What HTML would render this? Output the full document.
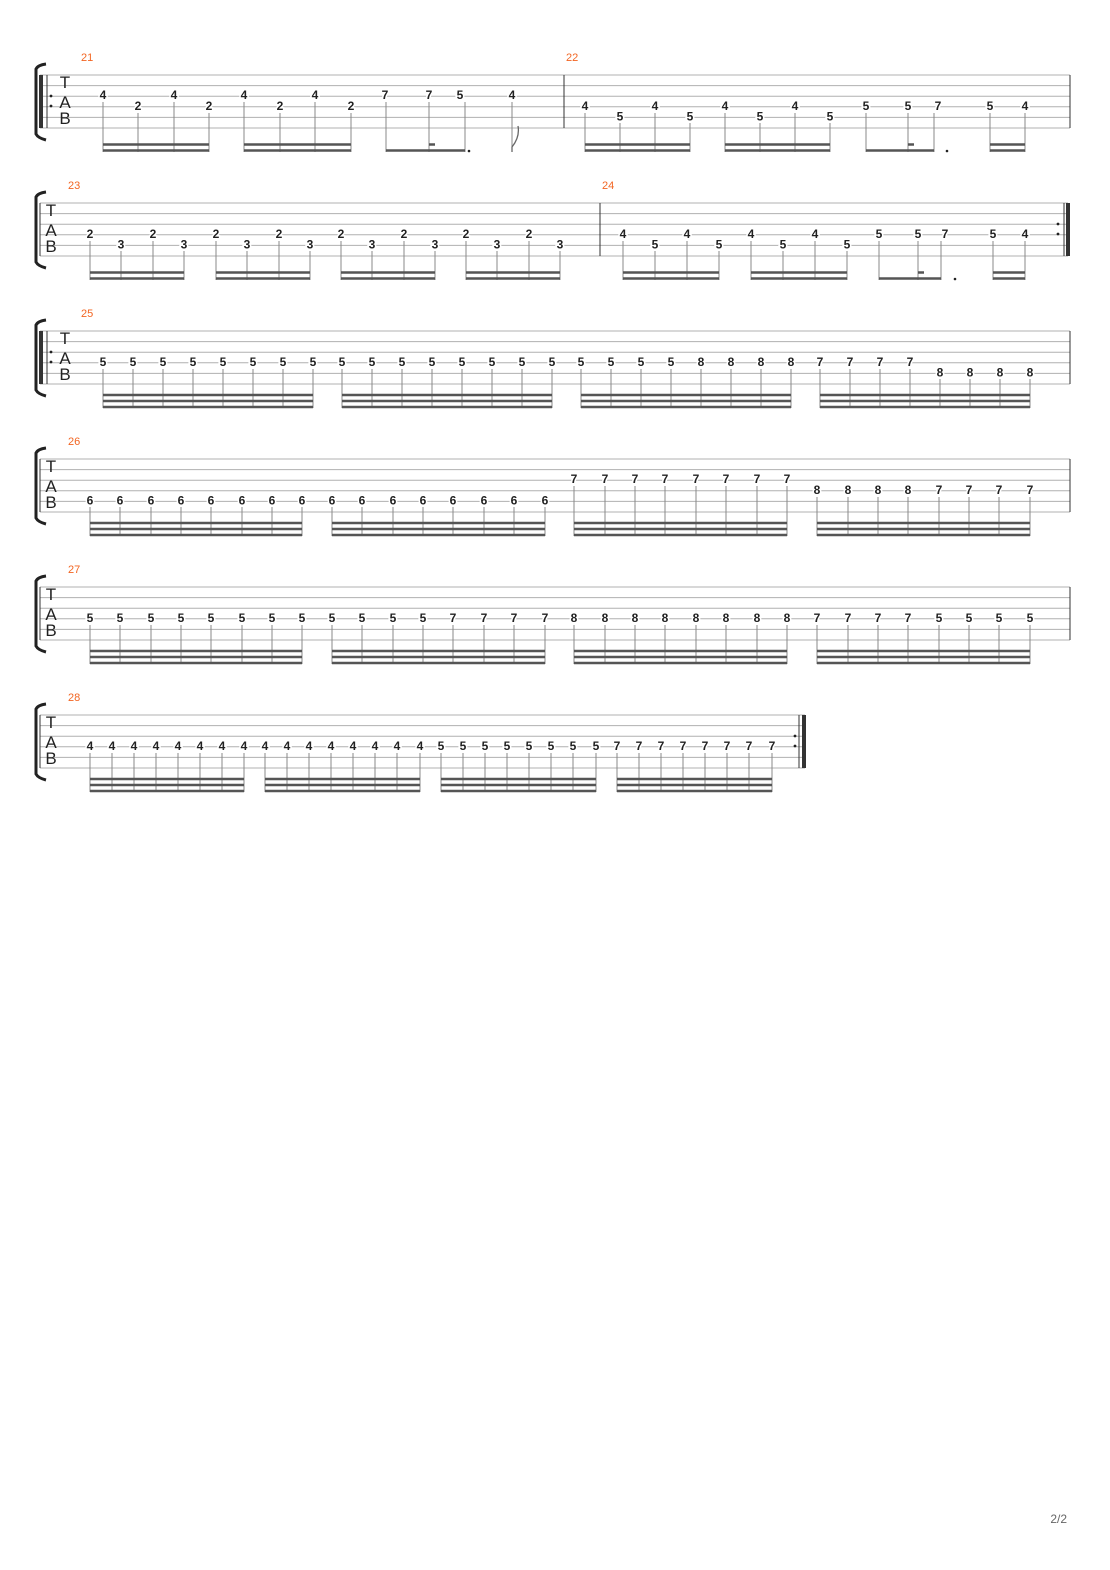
<!DOCTYPE html>
<html><head><meta charset="utf-8"><style>
html,body{margin:0;padding:0;background:#fff}
svg{display:block}
.n{font:bold 12px "Liberation Sans",sans-serif;fill:#222;text-anchor:middle;stroke:#fff;stroke-width:3px;paint-order:stroke}
.m{font:11px "Liberation Sans",sans-serif;fill:#f26522}
.tab{font:17px "Liberation Sans",sans-serif;fill:#222;text-anchor:middle}
.sl line{stroke:#b0b0b0;stroke-width:1}
.st line{stroke:#888;stroke-width:1}
.bm line{stroke:#555;stroke-width:2.5}
.br{fill:none;stroke:#222;stroke-width:3}
</style></head><body>
<svg width="1110" height="1570" viewBox="0 0 1110 1570" xmlns="http://www.w3.org/2000/svg">

<!-- ========== SYSTEM 1 ========== -->
<g transform="translate(0,75)">
<path class="br" d="M46 -11 Q38 -10 36 -6 L36 59 Q38 63 46 65"/>
<g class="sl"><line x1="40" y1="0" x2="1070" y2="0"/><line x1="40" y1="10.6" x2="1070" y2="10.6"/><line x1="40" y1="21.2" x2="1070" y2="21.2"/><line x1="40" y1="31.8" x2="1070" y2="31.8"/><line x1="40" y1="42.4" x2="1070" y2="42.4"/><line x1="40" y1="53" x2="1070" y2="53"/></g>
<rect x="39" y="0" width="4" height="53" fill="#333"/><line x1="47" y1="0" x2="47" y2="53" stroke="#333" stroke-width="1"/>
<circle cx="51" cy="21" r="1.4" fill="#222"/><circle cx="51" cy="31" r="1.4" fill="#222"/>
<text class="tab" x="65" y="13">T</text><text class="tab" x="65" y="33">A</text><text class="tab" x="65" y="49">B</text>
<text class="m" x="81" y="-14">21</text><text class="m" x="566" y="-14">22</text>
<line x1="564" y1="0" x2="564" y2="53" stroke="#333"/>
<line x1="1070" y1="0" x2="1070" y2="53" stroke="#333"/>
<g class="st">
<line x1="103" y1="27" x2="103" y2="77"/><line x1="138" y1="38" x2="138" y2="77"/><line x1="174" y1="27" x2="174" y2="77"/><line x1="209" y1="38" x2="209" y2="77"/>
<line x1="244" y1="27" x2="244" y2="77"/><line x1="280" y1="38" x2="280" y2="77"/><line x1="315" y1="27" x2="315" y2="77"/><line x1="351" y1="38" x2="351" y2="77"/>
<line x1="386" y1="27" x2="386" y2="77"/><line x1="429" y1="27" x2="429" y2="77"/><line x1="465" y1="27" x2="465" y2="77"/><line x1="512" y1="27" x2="512" y2="77"/>
<line x1="585" y1="38" x2="585" y2="77"/><line x1="620" y1="48" x2="620" y2="77"/><line x1="655" y1="38" x2="655" y2="77"/><line x1="690" y1="48" x2="690" y2="77"/>
<line x1="725" y1="38" x2="725" y2="77"/><line x1="760" y1="48" x2="760" y2="77"/><line x1="795" y1="38" x2="795" y2="77"/><line x1="830" y1="48" x2="830" y2="77"/>
<line x1="866" y1="38" x2="866" y2="77"/><line x1="908" y1="38" x2="908" y2="77"/><line x1="934" y1="38" x2="934" y2="77"/>
<line x1="990" y1="38" x2="990" y2="77"/><line x1="1025" y1="38" x2="1025" y2="77"/>
</g>
<path d="M512 77 L512 72 Q520 62 518 51" fill="none" stroke="#666" stroke-width="1.3"/>
<g class="bm">
<line x1="103" y1="69.5" x2="209" y2="69.5"/><line x1="103" y1="75.5" x2="209" y2="75.5"/>
<line x1="244" y1="69.5" x2="351" y2="69.5"/><line x1="244" y1="75.5" x2="351" y2="75.5"/>
<line x1="386" y1="75.5" x2="465" y2="75.5"/><line x1="429" y1="69.5" x2="435" y2="69.5"/>
<line x1="585" y1="69.5" x2="690" y2="69.5"/><line x1="585" y1="75.5" x2="690" y2="75.5"/>
<line x1="725" y1="69.5" x2="830" y2="69.5"/><line x1="725" y1="75.5" x2="830" y2="75.5"/>
<line x1="866" y1="75.5" x2="934" y2="75.5"/><line x1="908" y1="69.5" x2="914" y2="69.5"/>
<line x1="990" y1="69.5" x2="1025" y2="69.5"/><line x1="990" y1="75.5" x2="1025" y2="75.5"/>
</g>
<circle cx="469" cy="76" r="1.3" fill="#222"/><circle cx="947" cy="76" r="1.3" fill="#222"/>
<text class="n" x="103" y="24.2">4</text><text class="n" x="138" y="34.8">2</text><text class="n" x="174" y="24.2">4</text><text class="n" x="209" y="34.8">2</text>
<text class="n" x="244" y="24.2">4</text><text class="n" x="280" y="34.8">2</text><text class="n" x="315" y="24.2">4</text><text class="n" x="351" y="34.8">2</text>
<text class="n" x="385" y="24.2">7</text><text class="n" x="429" y="24.2">7</text><text class="n" x="460" y="24.2">5</text><text class="n" x="512" y="24.2">4</text>
<text class="n" x="585" y="34.8">4</text><text class="n" x="620" y="45.4">5</text><text class="n" x="655" y="34.8">4</text><text class="n" x="690" y="45.4">5</text>
<text class="n" x="725" y="34.8">4</text><text class="n" x="760" y="45.4">5</text><text class="n" x="795" y="34.8">4</text><text class="n" x="830" y="45.4">5</text>
<text class="n" x="866" y="34.8">5</text><text class="n" x="908" y="34.8">5</text><text class="n" x="938" y="34.8">7</text>
<text class="n" x="990" y="34.8">5</text><text class="n" x="1025" y="34.8">4</text>
</g>

<!-- ========== SYSTEM 2 ========== -->
<g transform="translate(0,203)">
<path class="br" d="M46 -11 Q38 -10 36 -6 L36 59 Q38 63 46 65"/>
<g class="sl"><line x1="40" y1="0" x2="1068" y2="0"/><line x1="40" y1="10.6" x2="1068" y2="10.6"/><line x1="40" y1="21.2" x2="1068" y2="21.2"/><line x1="40" y1="31.8" x2="1068" y2="31.8"/><line x1="40" y1="42.4" x2="1068" y2="42.4"/><line x1="40" y1="53" x2="1068" y2="53"/></g>
<line x1="40" y1="0" x2="40" y2="53" stroke="#333"/>
<text class="tab" x="51" y="13">T</text><text class="tab" x="51" y="33">A</text><text class="tab" x="51" y="49">B</text>
<text class="m" x="68" y="-14">23</text><text class="m" x="602" y="-14">24</text>
<line x1="600" y1="0" x2="600" y2="53" stroke="#333"/>
<line x1="1064" y1="0" x2="1064" y2="53" stroke="#333"/><rect x="1066" y="0" width="4" height="53" fill="#333"/>
<circle cx="1058" cy="21" r="1.4" fill="#222"/><circle cx="1058" cy="31" r="1.4" fill="#222"/>
<g class="st">
<line x1="90" y1="38" x2="90" y2="77"/><line x1="121" y1="48" x2="121" y2="77"/><line x1="153" y1="38" x2="153" y2="77"/><line x1="184" y1="48" x2="184" y2="77"/>
<line x1="216" y1="38" x2="216" y2="77"/><line x1="247" y1="48" x2="247" y2="77"/><line x1="279" y1="38" x2="279" y2="77"/><line x1="310" y1="48" x2="310" y2="77"/>
<line x1="341" y1="38" x2="341" y2="77"/><line x1="372" y1="48" x2="372" y2="77"/><line x1="404" y1="38" x2="404" y2="77"/><line x1="435" y1="48" x2="435" y2="77"/>
<line x1="466" y1="38" x2="466" y2="77"/><line x1="497" y1="48" x2="497" y2="77"/><line x1="529" y1="38" x2="529" y2="77"/><line x1="560" y1="48" x2="560" y2="77"/>
<line x1="623" y1="38" x2="623" y2="77"/><line x1="655" y1="48" x2="655" y2="77"/><line x1="687" y1="38" x2="687" y2="77"/><line x1="719" y1="48" x2="719" y2="77"/>
<line x1="751" y1="38" x2="751" y2="77"/><line x1="783" y1="48" x2="783" y2="77"/><line x1="815" y1="38" x2="815" y2="77"/><line x1="847" y1="48" x2="847" y2="77"/>
<line x1="879" y1="38" x2="879" y2="77"/><line x1="918" y1="38" x2="918" y2="77"/><line x1="941" y1="38" x2="941" y2="77"/>
<line x1="993" y1="38" x2="993" y2="77"/><line x1="1025" y1="38" x2="1025" y2="77"/>
</g>
<g class="bm">
<line x1="90" y1="69.5" x2="184" y2="69.5"/><line x1="90" y1="75.5" x2="184" y2="75.5"/>
<line x1="216" y1="69.5" x2="310" y2="69.5"/><line x1="216" y1="75.5" x2="310" y2="75.5"/>
<line x1="341" y1="69.5" x2="435" y2="69.5"/><line x1="341" y1="75.5" x2="435" y2="75.5"/>
<line x1="466" y1="69.5" x2="560" y2="69.5"/><line x1="466" y1="75.5" x2="560" y2="75.5"/>
<line x1="623" y1="69.5" x2="719" y2="69.5"/><line x1="623" y1="75.5" x2="719" y2="75.5"/>
<line x1="751" y1="69.5" x2="847" y2="69.5"/><line x1="751" y1="75.5" x2="847" y2="75.5"/>
<line x1="879" y1="75.5" x2="941" y2="75.5"/><line x1="918" y1="69.5" x2="924" y2="69.5"/>
<line x1="993" y1="69.5" x2="1025" y2="69.5"/><line x1="993" y1="75.5" x2="1025" y2="75.5"/>
</g>
<circle cx="955" cy="76" r="1.3" fill="#222"/>
<text class="n" x="90" y="34.8">2</text><text class="n" x="121" y="45.4">3</text><text class="n" x="153" y="34.8">2</text><text class="n" x="184" y="45.4">3</text>
<text class="n" x="216" y="34.8">2</text><text class="n" x="247" y="45.4">3</text><text class="n" x="279" y="34.8">2</text><text class="n" x="310" y="45.4">3</text>
<text class="n" x="341" y="34.8">2</text><text class="n" x="372" y="45.4">3</text><text class="n" x="404" y="34.8">2</text><text class="n" x="435" y="45.4">3</text>
<text class="n" x="466" y="34.8">2</text><text class="n" x="497" y="45.4">3</text><text class="n" x="529" y="34.8">2</text><text class="n" x="560" y="45.4">3</text>
<text class="n" x="623" y="34.8">4</text><text class="n" x="655" y="45.4">5</text><text class="n" x="687" y="34.8">4</text><text class="n" x="719" y="45.4">5</text>
<text class="n" x="751" y="34.8">4</text><text class="n" x="783" y="45.4">5</text><text class="n" x="815" y="34.8">4</text><text class="n" x="847" y="45.4">5</text>
<text class="n" x="879" y="34.8">5</text><text class="n" x="918" y="34.8">5</text><text class="n" x="945" y="34.8">7</text>
<text class="n" x="993" y="34.8">5</text><text class="n" x="1025" y="34.8">4</text>
</g>

<!-- ========== SYSTEM 3 ========== -->
<g transform="translate(0,331)">
<path class="br" d="M46 -11 Q38 -10 36 -6 L36 59 Q38 63 46 65"/>
<g class="sl"><line x1="40" y1="0" x2="1070" y2="0"/><line x1="40" y1="10.6" x2="1070" y2="10.6"/><line x1="40" y1="21.2" x2="1070" y2="21.2"/><line x1="40" y1="31.8" x2="1070" y2="31.8"/><line x1="40" y1="42.4" x2="1070" y2="42.4"/><line x1="40" y1="53" x2="1070" y2="53"/></g>
<rect x="39" y="0" width="4" height="53" fill="#333"/><line x1="47" y1="0" x2="47" y2="53" stroke="#333"/>
<circle cx="51" cy="21" r="1.4" fill="#222"/><circle cx="51" cy="31" r="1.4" fill="#222"/>
<text class="tab" x="65" y="13">T</text><text class="tab" x="65" y="33">A</text><text class="tab" x="65" y="49">B</text>
<text class="m" x="81" y="-14">25</text>
<line x1="1070" y1="0" x2="1070" y2="53" stroke="#333"/>
<g class="st">
<line x1="103" y1="38" x2="103" y2="77"/><line x1="133" y1="38" x2="133" y2="77"/><line x1="163" y1="38" x2="163" y2="77"/><line x1="193" y1="38" x2="193" y2="77"/><line x1="223" y1="38" x2="223" y2="77"/><line x1="253" y1="38" x2="253" y2="77"/><line x1="283" y1="38" x2="283" y2="77"/><line x1="313" y1="38" x2="313" y2="77"/>
<line x1="342" y1="38" x2="342" y2="77"/><line x1="372" y1="38" x2="372" y2="77"/><line x1="402" y1="38" x2="402" y2="77"/><line x1="432" y1="38" x2="432" y2="77"/><line x1="462" y1="38" x2="462" y2="77"/><line x1="492" y1="38" x2="492" y2="77"/><line x1="522" y1="38" x2="522" y2="77"/><line x1="552" y1="38" x2="552" y2="77"/>
<line x1="581" y1="38" x2="581" y2="77"/><line x1="611" y1="38" x2="611" y2="77"/><line x1="641" y1="38" x2="641" y2="77"/><line x1="671" y1="38" x2="671" y2="77"/><line x1="701" y1="38" x2="701" y2="77"/><line x1="731" y1="38" x2="731" y2="77"/><line x1="761" y1="38" x2="761" y2="77"/><line x1="791" y1="38" x2="791" y2="77"/>
<line x1="820" y1="38" x2="820" y2="77"/><line x1="850" y1="38" x2="850" y2="77"/><line x1="880" y1="38" x2="880" y2="77"/><line x1="910" y1="38" x2="910" y2="77"/><line x1="940" y1="48" x2="940" y2="77"/><line x1="970" y1="48" x2="970" y2="77"/><line x1="1000" y1="48" x2="1000" y2="77"/><line x1="1030" y1="48" x2="1030" y2="77"/>
</g>
<g class="bm">
<line x1="103" y1="64" x2="313" y2="64"/><line x1="103" y1="70" x2="313" y2="70"/><line x1="103" y1="76" x2="313" y2="76"/>
<line x1="342" y1="64" x2="552" y2="64"/><line x1="342" y1="70" x2="552" y2="70"/><line x1="342" y1="76" x2="552" y2="76"/>
<line x1="581" y1="64" x2="791" y2="64"/><line x1="581" y1="70" x2="791" y2="70"/><line x1="581" y1="76" x2="791" y2="76"/>
<line x1="820" y1="64" x2="1030" y2="64"/><line x1="820" y1="70" x2="1030" y2="70"/><line x1="820" y1="76" x2="1030" y2="76"/>
</g>
<g class="n">
<text x="103" y="34.8">5</text><text x="133" y="34.8">5</text><text x="163" y="34.8">5</text><text x="193" y="34.8">5</text><text x="223" y="34.8">5</text><text x="253" y="34.8">5</text><text x="283" y="34.8">5</text><text x="313" y="34.8">5</text>
<text x="342" y="34.8">5</text><text x="372" y="34.8">5</text><text x="402" y="34.8">5</text><text x="432" y="34.8">5</text><text x="462" y="34.8">5</text><text x="492" y="34.8">5</text><text x="522" y="34.8">5</text><text x="552" y="34.8">5</text>
<text x="581" y="34.8">5</text><text x="611" y="34.8">5</text><text x="641" y="34.8">5</text><text x="671" y="34.8">5</text><text x="701" y="34.8">8</text><text x="731" y="34.8">8</text><text x="761" y="34.8">8</text><text x="791" y="34.8">8</text>
<text x="820" y="34.8">7</text><text x="850" y="34.8">7</text><text x="880" y="34.8">7</text><text x="910" y="34.8">7</text><text x="940" y="45.4">8</text><text x="970" y="45.4">8</text><text x="1000" y="45.4">8</text><text x="1030" y="45.4">8</text>
</g>
</g>

<!-- ========== SYSTEM 4 ========== -->
<g transform="translate(0,459)">
<path class="br" d="M46 -11 Q38 -10 36 -6 L36 59 Q38 63 46 65"/>
<g class="sl"><line x1="40" y1="0" x2="1070" y2="0"/><line x1="40" y1="10.6" x2="1070" y2="10.6"/><line x1="40" y1="21.2" x2="1070" y2="21.2"/><line x1="40" y1="31.8" x2="1070" y2="31.8"/><line x1="40" y1="42.4" x2="1070" y2="42.4"/><line x1="40" y1="53" x2="1070" y2="53"/></g>
<line x1="40" y1="0" x2="40" y2="53" stroke="#333"/><line x1="1070" y1="0" x2="1070" y2="53" stroke="#333"/>
<text class="tab" x="51" y="13">T</text><text class="tab" x="51" y="33">A</text><text class="tab" x="51" y="49">B</text>
<text class="m" x="68" y="-14">26</text>
<g class="st">
<line x1="90" y1="48" x2="90" y2="77"/><line x1="120" y1="48" x2="120" y2="77"/><line x1="151" y1="48" x2="151" y2="77"/><line x1="181" y1="48" x2="181" y2="77"/><line x1="211" y1="48" x2="211" y2="77"/><line x1="242" y1="48" x2="242" y2="77"/><line x1="272" y1="48" x2="272" y2="77"/><line x1="302" y1="48" x2="302" y2="77"/>
<line x1="332" y1="48" x2="332" y2="77"/><line x1="362" y1="48" x2="362" y2="77"/><line x1="393" y1="48" x2="393" y2="77"/><line x1="423" y1="48" x2="423" y2="77"/><line x1="453" y1="48" x2="453" y2="77"/><line x1="484" y1="48" x2="484" y2="77"/><line x1="514" y1="48" x2="514" y2="77"/><line x1="545" y1="48" x2="545" y2="77"/>
<line x1="574" y1="27" x2="574" y2="77"/><line x1="605" y1="27" x2="605" y2="77"/><line x1="635" y1="27" x2="635" y2="77"/><line x1="665" y1="27" x2="665" y2="77"/><line x1="696" y1="27" x2="696" y2="77"/><line x1="726" y1="27" x2="726" y2="77"/><line x1="757" y1="27" x2="757" y2="77"/><line x1="787" y1="27" x2="787" y2="77"/>
<line x1="817" y1="38" x2="817" y2="77"/><line x1="848" y1="38" x2="848" y2="77"/><line x1="878" y1="38" x2="878" y2="77"/><line x1="908" y1="38" x2="908" y2="77"/><line x1="939" y1="38" x2="939" y2="77"/><line x1="969" y1="38" x2="969" y2="77"/><line x1="999" y1="38" x2="999" y2="77"/><line x1="1030" y1="38" x2="1030" y2="77"/>
</g>
<g class="bm">
<line x1="90" y1="64" x2="302" y2="64"/><line x1="90" y1="70" x2="302" y2="70"/><line x1="90" y1="76" x2="302" y2="76"/>
<line x1="332" y1="64" x2="545" y2="64"/><line x1="332" y1="70" x2="545" y2="70"/><line x1="332" y1="76" x2="545" y2="76"/>
<line x1="574" y1="64" x2="787" y2="64"/><line x1="574" y1="70" x2="787" y2="70"/><line x1="574" y1="76" x2="787" y2="76"/>
<line x1="817" y1="64" x2="1030" y2="64"/><line x1="817" y1="70" x2="1030" y2="70"/><line x1="817" y1="76" x2="1030" y2="76"/>
</g>
<g class="n">
<text x="90" y="45.4">6</text><text x="120" y="45.4">6</text><text x="151" y="45.4">6</text><text x="181" y="45.4">6</text><text x="211" y="45.4">6</text><text x="242" y="45.4">6</text><text x="272" y="45.4">6</text><text x="302" y="45.4">6</text>
<text x="332" y="45.4">6</text><text x="362" y="45.4">6</text><text x="393" y="45.4">6</text><text x="423" y="45.4">6</text><text x="453" y="45.4">6</text><text x="484" y="45.4">6</text><text x="514" y="45.4">6</text><text x="545" y="45.4">6</text>
<text x="574" y="24.2">7</text><text x="605" y="24.2">7</text><text x="635" y="24.2">7</text><text x="665" y="24.2">7</text><text x="696" y="24.2">7</text><text x="726" y="24.2">7</text><text x="757" y="24.2">7</text><text x="787" y="24.2">7</text>
<text x="817" y="34.8">8</text><text x="848" y="34.8">8</text><text x="878" y="34.8">8</text><text x="908" y="34.8">8</text><text x="939" y="34.8">7</text><text x="969" y="34.8">7</text><text x="999" y="34.8">7</text><text x="1030" y="34.8">7</text>
</g>
</g>

<!-- ========== SYSTEM 5 ========== -->
<g transform="translate(0,587)">
<path class="br" d="M46 -11 Q38 -10 36 -6 L36 59 Q38 63 46 65"/>
<g class="sl"><line x1="40" y1="0" x2="1070" y2="0"/><line x1="40" y1="10.6" x2="1070" y2="10.6"/><line x1="40" y1="21.2" x2="1070" y2="21.2"/><line x1="40" y1="31.8" x2="1070" y2="31.8"/><line x1="40" y1="42.4" x2="1070" y2="42.4"/><line x1="40" y1="53" x2="1070" y2="53"/></g>
<line x1="40" y1="0" x2="40" y2="53" stroke="#333"/><line x1="1070" y1="0" x2="1070" y2="53" stroke="#333"/>
<text class="tab" x="51" y="13">T</text><text class="tab" x="51" y="33">A</text><text class="tab" x="51" y="49">B</text>
<text class="m" x="68" y="-14">27</text>
<g class="st">
<line x1="90" y1="38" x2="90" y2="77"/><line x1="120" y1="38" x2="120" y2="77"/><line x1="151" y1="38" x2="151" y2="77"/><line x1="181" y1="38" x2="181" y2="77"/><line x1="211" y1="38" x2="211" y2="77"/><line x1="242" y1="38" x2="242" y2="77"/><line x1="272" y1="38" x2="272" y2="77"/><line x1="302" y1="38" x2="302" y2="77"/>
<line x1="332" y1="38" x2="332" y2="77"/><line x1="362" y1="38" x2="362" y2="77"/><line x1="393" y1="38" x2="393" y2="77"/><line x1="423" y1="38" x2="423" y2="77"/><line x1="453" y1="38" x2="453" y2="77"/><line x1="484" y1="38" x2="484" y2="77"/><line x1="514" y1="38" x2="514" y2="77"/><line x1="545" y1="38" x2="545" y2="77"/>
<line x1="574" y1="38" x2="574" y2="77"/><line x1="605" y1="38" x2="605" y2="77"/><line x1="635" y1="38" x2="635" y2="77"/><line x1="665" y1="38" x2="665" y2="77"/><line x1="696" y1="38" x2="696" y2="77"/><line x1="726" y1="38" x2="726" y2="77"/><line x1="757" y1="38" x2="757" y2="77"/><line x1="787" y1="38" x2="787" y2="77"/>
<line x1="817" y1="38" x2="817" y2="77"/><line x1="848" y1="38" x2="848" y2="77"/><line x1="878" y1="38" x2="878" y2="77"/><line x1="908" y1="38" x2="908" y2="77"/><line x1="939" y1="38" x2="939" y2="77"/><line x1="969" y1="38" x2="969" y2="77"/><line x1="999" y1="38" x2="999" y2="77"/><line x1="1030" y1="38" x2="1030" y2="77"/>
</g>
<g class="bm">
<line x1="90" y1="64" x2="302" y2="64"/><line x1="90" y1="70" x2="302" y2="70"/><line x1="90" y1="76" x2="302" y2="76"/>
<line x1="332" y1="64" x2="545" y2="64"/><line x1="332" y1="70" x2="545" y2="70"/><line x1="332" y1="76" x2="545" y2="76"/>
<line x1="574" y1="64" x2="787" y2="64"/><line x1="574" y1="70" x2="787" y2="70"/><line x1="574" y1="76" x2="787" y2="76"/>
<line x1="817" y1="64" x2="1030" y2="64"/><line x1="817" y1="70" x2="1030" y2="70"/><line x1="817" y1="76" x2="1030" y2="76"/>
</g>
<g class="n">
<text x="90" y="34.8">5</text><text x="120" y="34.8">5</text><text x="151" y="34.8">5</text><text x="181" y="34.8">5</text><text x="211" y="34.8">5</text><text x="242" y="34.8">5</text><text x="272" y="34.8">5</text><text x="302" y="34.8">5</text>
<text x="332" y="34.8">5</text><text x="362" y="34.8">5</text><text x="393" y="34.8">5</text><text x="423" y="34.8">5</text><text x="453" y="34.8">7</text><text x="484" y="34.8">7</text><text x="514" y="34.8">7</text><text x="545" y="34.8">7</text>
<text x="574" y="34.8">8</text><text x="605" y="34.8">8</text><text x="635" y="34.8">8</text><text x="665" y="34.8">8</text><text x="696" y="34.8">8</text><text x="726" y="34.8">8</text><text x="757" y="34.8">8</text><text x="787" y="34.8">8</text>
<text x="817" y="34.8">7</text><text x="848" y="34.8">7</text><text x="878" y="34.8">7</text><text x="908" y="34.8">7</text><text x="939" y="34.8">5</text><text x="969" y="34.8">5</text><text x="999" y="34.8">5</text><text x="1030" y="34.8">5</text>
</g>
</g>

<!-- ========== SYSTEM 6 ========== -->
<g transform="translate(0,715)">
<path class="br" d="M46 -11 Q38 -10 36 -6 L36 59 Q38 63 46 65"/>
<g class="sl"><line x1="40" y1="0" x2="805" y2="0"/><line x1="40" y1="10.6" x2="805" y2="10.6"/><line x1="40" y1="21.2" x2="805" y2="21.2"/><line x1="40" y1="31.8" x2="805" y2="31.8"/><line x1="40" y1="42.4" x2="805" y2="42.4"/><line x1="40" y1="53" x2="805" y2="53"/></g>
<line x1="40" y1="0" x2="40" y2="53" stroke="#333"/>
<line x1="799" y1="0" x2="799" y2="53" stroke="#333"/><rect x="802" y="0" width="4" height="53" fill="#333"/>
<circle cx="795" cy="21" r="1.4" fill="#222"/><circle cx="795" cy="31" r="1.4" fill="#222"/>
<text class="tab" x="51" y="13">T</text><text class="tab" x="51" y="33">A</text><text class="tab" x="51" y="49">B</text>
<text class="m" x="68" y="-14">28</text>
<g class="st">
<line x1="90" y1="38" x2="90" y2="77"/><line x1="112" y1="38" x2="112" y2="77"/><line x1="134" y1="38" x2="134" y2="77"/><line x1="156" y1="38" x2="156" y2="77"/><line x1="178" y1="38" x2="178" y2="77"/><line x1="200" y1="38" x2="200" y2="77"/><line x1="222" y1="38" x2="222" y2="77"/><line x1="244" y1="38" x2="244" y2="77"/>
<line x1="265" y1="38" x2="265" y2="77"/><line x1="287" y1="38" x2="287" y2="77"/><line x1="309" y1="38" x2="309" y2="77"/><line x1="331" y1="38" x2="331" y2="77"/><line x1="353" y1="38" x2="353" y2="77"/><line x1="375" y1="38" x2="375" y2="77"/><line x1="397" y1="38" x2="397" y2="77"/><line x1="420" y1="38" x2="420" y2="77"/>
<line x1="441" y1="38" x2="441" y2="77"/><line x1="463" y1="38" x2="463" y2="77"/><line x1="485" y1="38" x2="485" y2="77"/><line x1="507" y1="38" x2="507" y2="77"/><line x1="529" y1="38" x2="529" y2="77"/><line x1="551" y1="38" x2="551" y2="77"/><line x1="573" y1="38" x2="573" y2="77"/><line x1="596" y1="38" x2="596" y2="77"/>
<line x1="617" y1="38" x2="617" y2="77"/><line x1="639" y1="38" x2="639" y2="77"/><line x1="661" y1="38" x2="661" y2="77"/><line x1="683" y1="38" x2="683" y2="77"/><line x1="705" y1="38" x2="705" y2="77"/><line x1="727" y1="38" x2="727" y2="77"/><line x1="749" y1="38" x2="749" y2="77"/><line x1="772" y1="38" x2="772" y2="77"/>
</g>
<g class="bm">
<line x1="90" y1="64" x2="244" y2="64"/><line x1="90" y1="70" x2="244" y2="70"/><line x1="90" y1="76" x2="244" y2="76"/>
<line x1="265" y1="64" x2="420" y2="64"/><line x1="265" y1="70" x2="420" y2="70"/><line x1="265" y1="76" x2="420" y2="76"/>
<line x1="441" y1="64" x2="596" y2="64"/><line x1="441" y1="70" x2="596" y2="70"/><line x1="441" y1="76" x2="596" y2="76"/>
<line x1="617" y1="64" x2="772" y2="64"/><line x1="617" y1="70" x2="772" y2="70"/><line x1="617" y1="76" x2="772" y2="76"/>
</g>
<g class="n">
<text x="90" y="34.8">4</text><text x="112" y="34.8">4</text><text x="134" y="34.8">4</text><text x="156" y="34.8">4</text><text x="178" y="34.8">4</text><text x="200" y="34.8">4</text><text x="222" y="34.8">4</text><text x="244" y="34.8">4</text>
<text x="265" y="34.8">4</text><text x="287" y="34.8">4</text><text x="309" y="34.8">4</text><text x="331" y="34.8">4</text><text x="353" y="34.8">4</text><text x="375" y="34.8">4</text><text x="397" y="34.8">4</text><text x="420" y="34.8">4</text>
<text x="441" y="34.8">5</text><text x="463" y="34.8">5</text><text x="485" y="34.8">5</text><text x="507" y="34.8">5</text><text x="529" y="34.8">5</text><text x="551" y="34.8">5</text><text x="573" y="34.8">5</text><text x="596" y="34.8">5</text>
<text x="617" y="34.8">7</text><text x="639" y="34.8">7</text><text x="661" y="34.8">7</text><text x="683" y="34.8">7</text><text x="705" y="34.8">7</text><text x="727" y="34.8">7</text><text x="749" y="34.8">7</text><text x="772" y="34.8">7</text>
</g>
</g>

<text x="1067" y="1523" text-anchor="end" style="font:12px 'Liberation Sans',sans-serif;fill:#666">2/2</text>
</svg>
</body></html>
